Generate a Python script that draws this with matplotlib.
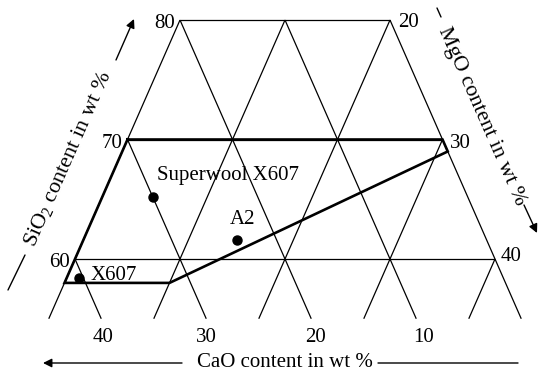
import matplotlib
matplotlib.use("Agg")
import matplotlib.pyplot as plt

plt.rcParams["font.family"] = ["Liberation Serif", "DejaVu Serif"]
plt.rcParams["mathtext.fontset"] = "custom"
plt.rcParams["mathtext.rm"] = "Liberation Serif"
plt.rcParams["mathtext.it"] = "Liberation Serif:italic"

# ---- data -------------------------------------------------------------
sio2_levels = [60, 70, 80]          # horizontal grid lines / left ticks
mgo_levels = [0, 10, 20, 30, 40]    # "/" grid lines
cao_levels = [0, 10, 20, 30, 40]    # "\" grid lines
sio2_min = 55                       # lower edge of the diagram section

sio2_tick_labels = ["60", "70", "80"]
mgo_tick_values = [20, 30, 40]
cao_tick_values = [40, 30, 20, 10]

samples = ["Superwool X607", "A2", "X607"]
sample_sio2 = [65.2, 61.6, 58.4]
sample_mgo = [4.8, 14.6, 1.2]

# glass-forming field boundary (SiO2, MgO); CaO is the balance
field_sio2 = [70, 70, 69, 58, 58, 70]
field_mgo = [0, 30, 31, 10, 0, 0]

THIN = 0.9
BOLD = 1.9
FS = 15
FS_TITLE = 16


def tern(s, m):
    """Ternary (SiO2 top, MgO right) -> cartesian."""
    return m + s / 2.0, s


W, H = 538, 374
fig = plt.figure(figsize=(W / 100, H / 100), dpi=100)
ax = fig.add_axes([0, 0, 1, 1])
ax.set_xlim(22.857, 74.095)
ax.set_ylim(50.377, 81.674)
ax.axis("off")


def fig_xy(px, py):
    """Image pixel position (origin top-left) -> figure fraction."""
    return px / W, 1 - py / H


# ---- grid -------------------------------------------------------------
top = max(sio2_levels)
for c in cao_levels:
    s0 = min(top, 100 - c)
    x0, y0 = tern(s0, 100 - c - s0)
    x1, y1 = tern(sio2_min, 100 - c - sio2_min)
    ax.plot([x0, x1], [y0, y1], color="k", lw=THIN, solid_capstyle="butt")
for m in mgo_levels:
    s0 = min(top, 100 - m)
    x0, y0 = tern(s0, m)
    x1, y1 = tern(sio2_min, m)
    ax.plot([x0, x1], [y0, y1], color="k", lw=THIN, solid_capstyle="butt")
for s in sio2_levels:
    x0, y0 = tern(s, 0)
    x1, y1 = tern(s, 100 - s)
    ax.plot([x0, x1], [y0, y1], color="k", lw=THIN, solid_capstyle="butt")

# ---- field boundary ---------------------------------------------------
fx, fy = zip(*[tern(s, m) for s, m in zip(field_sio2, field_mgo)])
ax.plot(fx, fy, color="k", lw=BOLD, solid_joinstyle="miter")

# ---- samples ----------------------------------------------------------
label_offsets = [(4, 17), (-7, 16), (11, -2)]
for name, s, m, off in zip(samples, sample_sio2, sample_mgo, label_offsets):
    x, y = tern(s, m)
    ax.plot(x, y, "o", color="k", ms=6.5)
    ax.annotate(name, (x, y), xytext=off, textcoords="offset pixels",
                ha="left", va="baseline", fontsize=FS)

# ---- tick labels ------------------------------------------------------
for s, lab in zip(sio2_levels, sio2_tick_labels):
    ax.annotate(lab, tern(s, 0), xytext=(-5, -8), textcoords="offset pixels",
                ha="right", va="baseline", fontsize=FS)

mgo_offsets = [(8, -7), (7, -8), (6, -2)]
for m, off in zip(mgo_tick_values, mgo_offsets):
    ax.annotate(str(m), tern(100 - m, m), xytext=off, textcoords="offset pixels",
                ha="left", va="baseline", fontsize=FS)

cao_offsets = [2, 0, 4, 7]
for c, dx in zip(cao_tick_values, cao_offsets):
    ax.annotate(str(c), tern(sio2_min, 100 - c - sio2_min), xytext=(dx, -23),
                textcoords="offset pixels", ha="center", va="baseline",
                fontsize=FS)

# ---- axis titles ------------------------------------------------------
arrow = dict(arrowstyle="-|>", lw=1.0, color="k", mutation_scale=13,
             shrinkA=0, shrinkB=0)
line = dict(arrowstyle="-", lw=1.0, color="k", shrinkA=0, shrinkB=0)

# CaO (bottom)
fig.text(*fig_xy(285, 367), "CaO content in wt %", ha="center", va="baseline",
         fontsize=FS)
ax.annotate("", xy=fig_xy(43, 363), xytext=fig_xy(182, 363),
            xycoords="figure fraction", textcoords="figure fraction",
            arrowprops=arrow)
ax.annotate("", xy=fig_xy(518, 363), xytext=fig_xy(378, 363),
            xycoords="figure fraction", textcoords="figure fraction",
            arrowprops=line)

# SiO2 (left side)
fig.text(*fig_xy(68, 159), "SiO$_2$ content in wt %", ha="center",
         va="center", rotation=66.2, rotation_mode="anchor",
         fontsize=FS_TITLE)
ax.annotate("", xy=fig_xy(25, 255), xytext=fig_xy(8, 290),
            xycoords="figure fraction", textcoords="figure fraction",
            arrowprops=line)
ax.annotate("", xy=fig_xy(134, 19), xytext=fig_xy(116, 60),
            xycoords="figure fraction", textcoords="figure fraction",
            arrowprops=arrow)

# MgO (right side)
fig.text(*fig_xy(482, 116), "MgO content in wt %", ha="center",
         va="center", rotation=-66.2, rotation_mode="anchor",
         fontsize=FS_TITLE)
ax.annotate("", xy=fig_xy(441, 17), xytext=fig_xy(437, 8),
            xycoords="figure fraction", textcoords="figure fraction",
            arrowprops=line)
ax.annotate("", xy=fig_xy(537, 233), xytext=fig_xy(524, 205),
            xycoords="figure fraction", textcoords="figure fraction",
            arrowprops=arrow)

fig.savefig("out.png", dpi=100, facecolor="white")
